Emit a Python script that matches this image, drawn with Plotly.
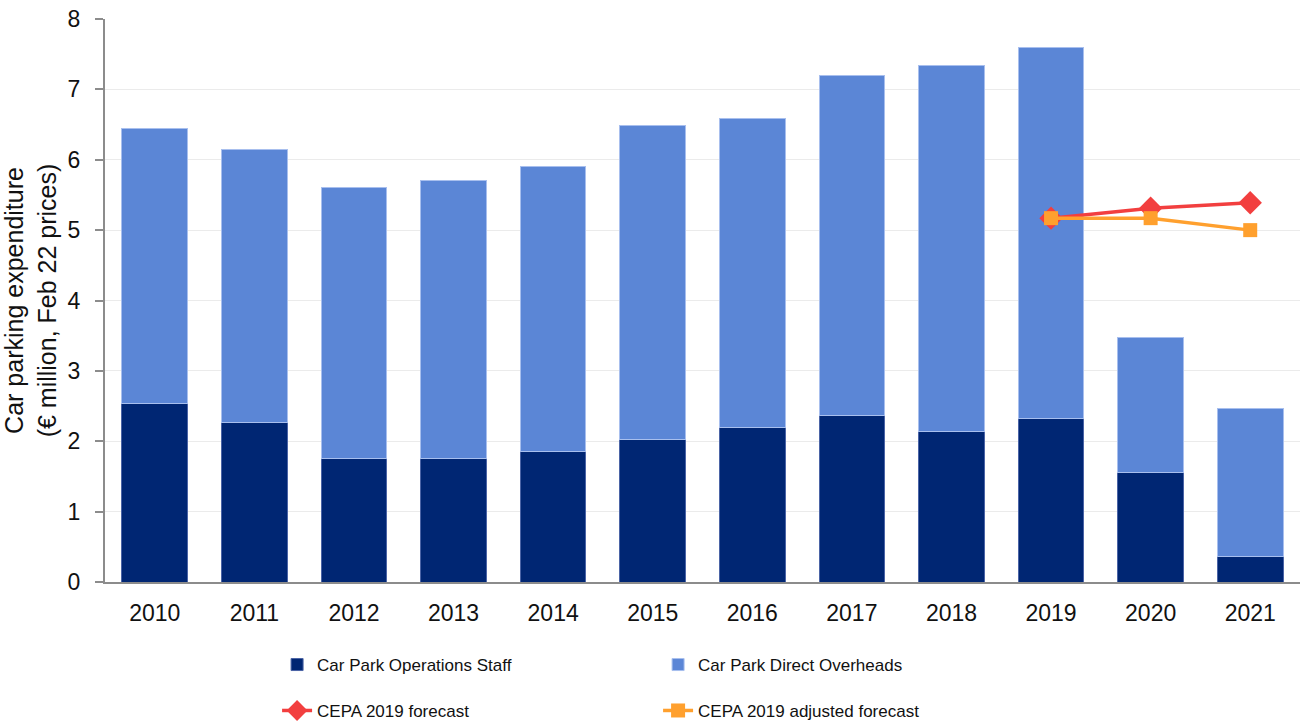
import plotly.graph_objects as go

years = ["2010", "2011", "2012", "2013", "2014", "2015",
         "2016", "2017", "2018", "2019", "2020", "2021"]
staff = [2.53, 2.27, 1.76, 1.76, 1.85, 2.02, 2.20, 2.37, 2.14, 2.32, 1.56, 0.36]
totals = [6.45, 6.15, 5.60, 5.70, 5.91, 6.49, 6.58, 7.20, 7.34, 7.60, 3.47, 2.46]
overheads = [round(t - s, 2) for t, s in zip(totals, staff)]

forecast_years = ["2019", "2020", "2021"]
cepa_forecast = [5.17, 5.31, 5.39]
cepa_adjusted = [5.17, 5.17, 5.00]

FONT = "Liberation Sans, Arial, sans-serif"

fig = go.Figure()
fig.add_trace(go.Bar(
    x=years, y=staff, name="Car Park Operations Staff",
    marker=dict(color="#002673", line=dict(color="#4b64a6", width=1)),
    legend="legend",
))
fig.add_trace(go.Bar(
    x=years, y=overheads, name="Car Park Direct Overheads",
    marker=dict(color="#5b86d6", line=dict(color="#a8bfee", width=1)),
    legend="legend",
))
fig.add_trace(go.Scatter(
    x=forecast_years, y=cepa_forecast, name="CEPA 2019 forecast",
    mode="lines+markers",
    line=dict(color="#f23f3f", width=3.5),
    marker=dict(symbol="diamond", size=18, color="#f23f3f"),
    legend="legend2",
))
fig.add_trace(go.Scatter(
    x=forecast_years, y=cepa_adjusted, name="CEPA 2019 adjusted forecast",
    mode="lines+markers",
    line=dict(color="#ffa02e", width=3.5),
    marker=dict(symbol="square", size=14, color="#ffa02e"),
    legend="legend2",
))

legend_common = dict(
    orientation="h", xanchor="left", yanchor="middle",
    entrywidth=336, entrywidthmode="pixels",
    font=dict(family=FONT, size=17, color="#111111"),
    bgcolor="rgba(0,0,0,0)", traceorder="normal",
)

fig.update_layout(
    width=1302, height=726,
    margin=dict(l=105, r=2, t=19, b=144, autoexpand=False),
    paper_bgcolor="white", plot_bgcolor="white",
    barmode="stack", bargap=0.34,
    font=dict(family=FONT, size=22, color="#111111"),
    legend=dict(x=0.144, y=-0.1474, **legend_common),
    legend2=dict(x=0.144, y=-0.229, **legend_common),
    xaxis=dict(
        type="category", range=[-0.5, len(years) - 0.5],
        showgrid=False, ticks="",
        showline=True, linecolor="#8c8c8c", linewidth=2,
        tickfont=dict(family=FONT, size=23, color="#111111"),
        ticklabelstandoff=9,
    ),
    yaxis=dict(
        range=[0, 8], dtick=1, showgrid=True, gridcolor="#ebebeb", gridwidth=1,
        showline=True, linecolor="#8c8c8c", linewidth=2,
        ticks="outside", ticklen=8, tickcolor="#8c8c8c", tickwidth=2,
        tickfont=dict(family=FONT, size=23, color="#111111"),
        ticklabelstandoff=10,
        zeroline=False,
        title=dict(text="Car parking expenditure<br>(€ million, Feb 22 prices)",
                   font=dict(family=FONT, size=25, color="#111111"),
                   standoff=8),
    ),
)

fig.write_html("out.html")
